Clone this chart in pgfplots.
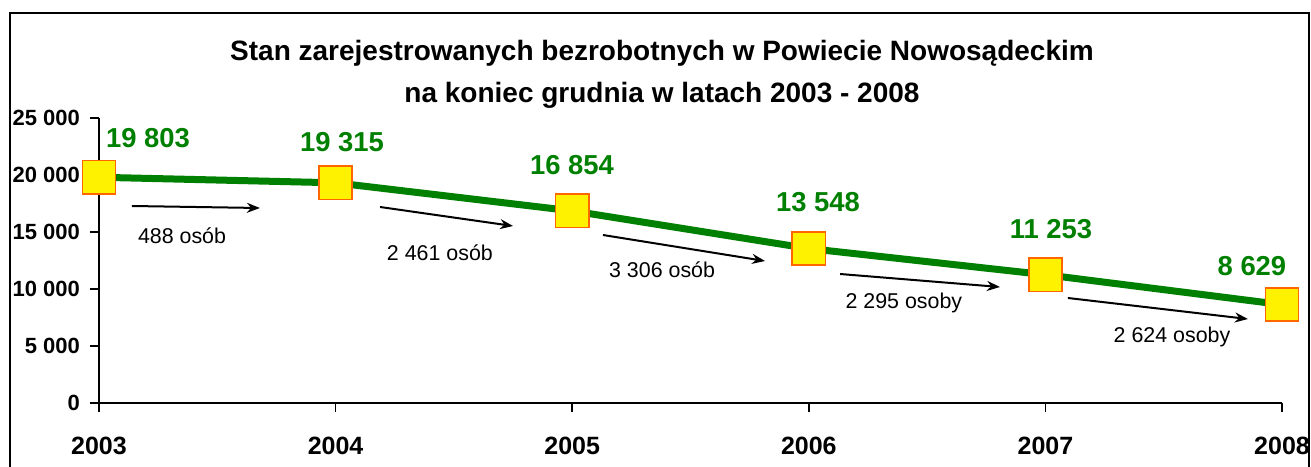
\documentclass[border=0pt]{standalone}
\usepackage{pgfplots}
\pgfplotsset{compat=1.18}
\usepackage{fontspec}
\setmainfont{Liberation Sans}
\usetikzlibrary{arrows.meta}
\definecolor{lgreen}{RGB}{0,128,0}
\definecolor{mkorange}{RGB}{255,102,0}
\begin{document}
\begin{tikzpicture}[x=1pt,y=1pt]
\useasboundingbox (0,0) rectangle (655.5,233);
\begin{axis}[
  at={(49.5pt,31.5pt)}, anchor=south west,
  scale only axis, width=591.5pt, height=142.5pt,
  xmin=0, xmax=5, ymin=0, ymax=25000,
  scaled y ticks=false,
  axis lines*=left,
  axis line style={line width=0.8pt},
  tick align=outside, major tick length=4.5pt,
  tick style={line width=0.8pt, black},
  xtick={0,1,2,3,4,5},
  xticklabels={2003,2004,2005,2006,2007,2008},
  ytick={0,5000,10000,15000,20000,25000},
  yticklabels={0,5 000,10 000,15 000,20 000,25 000},
  xticklabel style={font=\fontsize{12.5}{14}\selectfont\bfseries, yshift=-9pt},
  yticklabel style={font=\fontsize{11}{13}\selectfont\bfseries, xshift=-1.5pt},
  clip=false,
]
\addplot[lgreen, line width=3.5pt, mark=square*, mark size=8.3pt,
  mark options={fill=yellow, draw=mkorange, line width=0.8pt, solid}]
  coordinates {(0,19803) (1,19315) (2,16854) (3,13548) (4,11253) (5,8629)};

\begin{scope}[every node/.style={text=lgreen, font=\fontsize{13.7}{15}\selectfont\bfseries}]
\node at (axis cs:0.207,23246) {19 803};
\node at (axis cs:1.027,22895) {19 315};
\node at (axis cs:1.999,20877) {16 854};
\node at (axis cs:3.039,17632) {13 548};
\node at (axis cs:4.024,15263) {11 253};
\node at (axis cs:4.873,12018) {8 629};
\end{scope}

\begin{scope}[-{Stealth[length=6.5pt,width=5pt]}, line width=1pt]
\draw (axis cs:0.139,17281) -- (axis cs:0.680,17105);
\draw (axis cs:1.188,17193) -- (axis cs:1.750,15526);
\draw (axis cs:2.130,14737) -- (axis cs:2.815,12456);
\draw (axis cs:3.132,11316) -- (axis cs:3.808,10175);
\draw (axis cs:4.095,9211) -- (axis cs:4.856,7368);
\end{scope}

\begin{scope}[every node/.style={font=\fontsize{10.7}{12}\selectfont}]
\node at (axis cs:0.351,14649) {488 osób};
\node at (axis cs:1.441,13158) {2 461 osób};
\node at (axis cs:2.380,11667) {3 306 osób};
\node at (axis cs:3.402,8772) {2 295 osoby};
\node at (axis cs:4.535,5789) {2 624 osoby};
\end{scope}
\end{axis}
\node[align=center, font=\fontsize{14}{21}\selectfont\bfseries] at (331,196)
  {Stan zarejestrowanych bezrobotnych w Powiecie Nowosądeckim\\na koniec grudnia w latach 2003 - 2008};
\draw[line width=1.1pt] (5,-2) -- (5,226.5) -- (654.5,226.5) -- (654.5,-2);
\end{tikzpicture}
\end{document}
